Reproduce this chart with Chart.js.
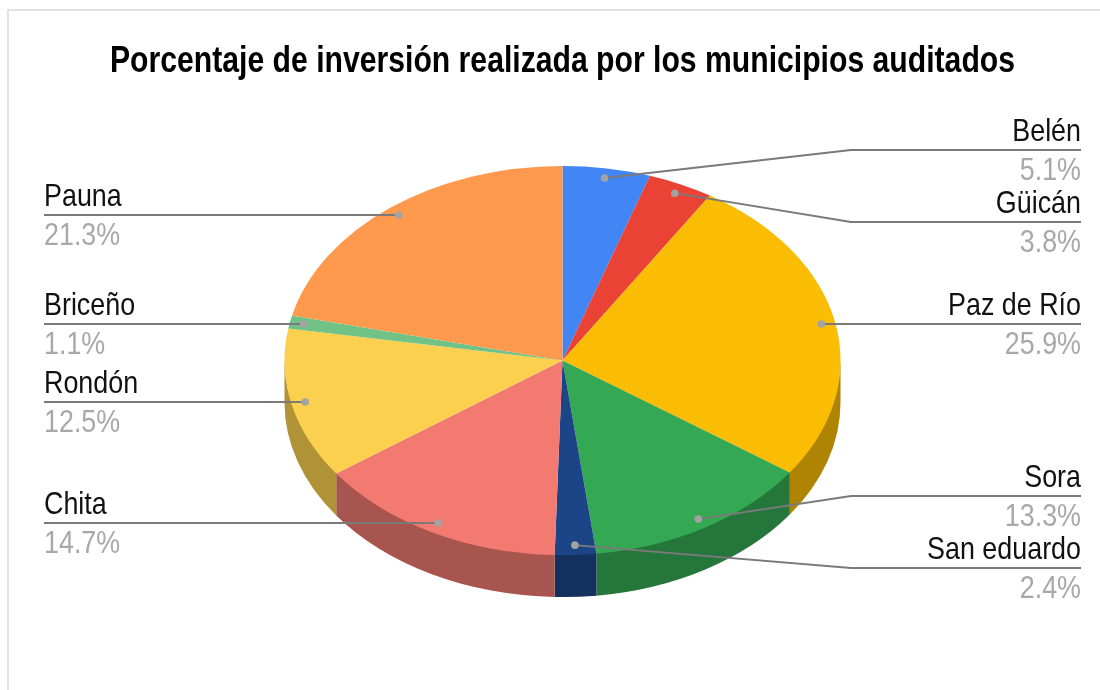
<!DOCTYPE html>
<html><head><meta charset="utf-8">
<style>
html,body{margin:0;padding:0;background:#fff;width:1100px;height:690px;overflow:hidden}
#frame{position:absolute;left:7px;top:9px;width:1093px;height:681px;border-left:2px solid #e2e2e2;border-top:2px solid #e2e2e2;box-sizing:border-box}
canvas{position:absolute;left:0;top:0}
</style>
<script src="https://cdn.jsdelivr.net/npm/chart.js@4"></script>
</head><body>
<div id="frame"></div>
<canvas id="c" width="1100" height="690"></canvas>
<script>
const chartTitle = 'Porcentaje de inversión realizada por los municipios auditados';
const categories = ['Belén','Güicán','Paz de Río','Sora','San eduardo','Chita','Rondón','Briceño','Pauna'];
const shares = [5.1,3.8,25.9,13.3,2.4,14.7,12.5,1.1,21.3];
const sliceColors = ['#4285f4','#ea4335','#fbbc04','#34a853','#1c4587','#f27a71','#fcd04f','#71c287','#ff994d'];

// Presentation settings (not data)
const TILT = 0.7, DEPTH = 42, WALL_SHADE = 0.7, DOT_RADIUS_FRACTION = 0.95;
const calloutLayout = [
  {side:'right', y:150, elbow:851},
  {side:'right', y:222, elbow:851},
  {side:'right', y:324},
  {side:'right', y:496, elbow:851},
  {side:'right', y:568, elbow:851},
  {side:'left',  y:523},
  {side:'left',  y:402},
  {side:'left',  y:324},
  {side:'left',  y:215}
];
const LEFT_X = 44, RIGHT_X = 1081;
const LABEL_FONT = '32px "Liberation Sans", Arial, sans-serif', SQUEEZE = 0.84;

function shade(hex, f){
  const n = parseInt(hex.slice(1),16);
  const c = [n>>16&255, n>>8&255, n&255].map(v=>Math.round(v*f));
  return `rgb(${c[0]},${c[1]},${c[2]})`;
}
const tiltPlugin = {
  id:'tilt',
  beforeDatasetDraw(chart,args){
    const ctx = chart.ctx, arcs = chart.getDatasetMeta(args.index).data;
    const cx = arcs[0].x, cy = arcs[0].y;
    ctx.save();
    ctx.translate(cx,cy); ctx.scale(1,TILT); ctx.translate(-cx,-cy);
    // side wall of each slice: swept from the arc element's own geometry
    arcs.forEach((arc,i)=>{
      const lo = Math.max(arc.startAngle,0), hi = Math.min(arc.endAngle,Math.PI);
      if(hi<=lo) return;
      ctx.beginPath();
      ctx.arc(arc.x,arc.y-1/TILT,arc.outerRadius,lo,hi);
      ctx.arc(arc.x,arc.y+DEPTH/TILT,arc.outerRadius,hi,lo,true);
      ctx.closePath();
      ctx.fillStyle = shade(sliceColors[i],WALL_SHADE);
      ctx.fill();
    });
  },
  afterDatasetDraw(chart){ chart.ctx.restore(); }
};
const calloutPlugin = {
  id:'callouts',
  afterDraw(chart){
    const ctx = chart.ctx, arcs = chart.getDatasetMeta(0).data;
    arcs.forEach((arc,i)=>{
      const L = calloutLayout[i];
      const a = (arc.startAngle+arc.endAngle)/2, r = arc.outerRadius*DOT_RADIUS_FRACTION;
      const px = arc.x+Math.cos(a)*r;
      const py = L.elbow ? arc.y+Math.sin(a)*r*TILT : L.y;
      const endX = L.side==='left'?LEFT_X:RIGHT_X;
      ctx.save();
      ctx.strokeStyle='#7a7a7a'; ctx.lineWidth=1.8;
      ctx.beginPath(); ctx.moveTo(px,py);
      if(L.elbow){ ctx.lineTo(L.elbow,L.y); }
      ctx.lineTo(endX,L.y); ctx.stroke();
      ctx.fillStyle='#a3a3a3'; ctx.beginPath(); ctx.arc(px,py,3.8,0,Math.PI*2); ctx.fill();
      ctx.font=LABEL_FONT; ctx.textAlign=L.side==='left'?'left':'right'; ctx.textBaseline='alphabetic';
      const name=categories[i], val=shares[i].toFixed(1)+'%';
      ctx.fillStyle='#111';
      ctx.fillText(name,endX,L.y-9,ctx.measureText(name).width*SQUEEZE);
      ctx.fillStyle='#a8a8a8';
      ctx.fillText(val,endX,L.y+30,ctx.measureText(val).width*SQUEEZE);
      ctx.restore();
    });
  }
};
new Chart(document.getElementById('c'),{
  type:'pie',
  data:{labels:categories,datasets:[{data:shares,backgroundColor:sliceColors,borderWidth:0,clip:false}]},
  options:{
    responsive:false,animation:false,
    layout:{padding:{left:110,right:85,top:0,bottom:51.5}},
    plugins:{
      legend:{display:false},tooltip:{enabled:false},
      title:{display:true,text:chartTitle,color:'#000',
        font:{family:'"Liberation Sans", Arial, sans-serif',size:36,weight:'bold',lineHeight:1.1},
        padding:{top:42.4,bottom:0.5}}
    }
  },
  plugins:[tiltPlugin,calloutPlugin]
});
</script>
</body></html>
